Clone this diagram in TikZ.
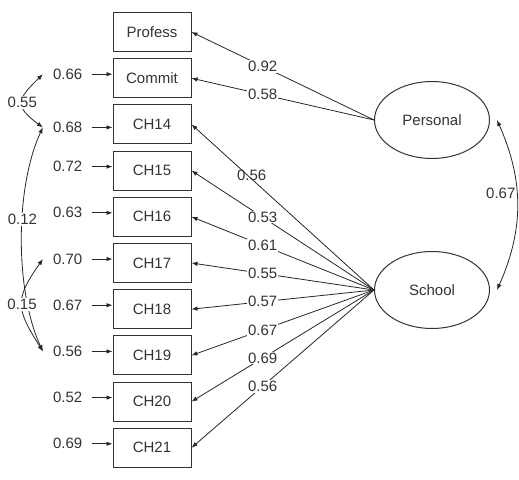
\documentclass[tikz,border=0pt]{standalone}
\usepackage{fontspec}
\setmainfont{Liberation Sans}
\usetikzlibrary{arrows.meta, positioning, shapes.geometric}

\begin{document}
\begin{tikzpicture}[
    x=1pt, y=1pt,
    >=Latex,
    node distance=6.2pt,
    every node/.style={font=\fontsize{15}{18}\selectfont, text=black!80},
    item/.style={
        rectangle,
        draw=black!80,
        line width=1pt,
        minimum width=78pt,
        minimum height=39pt,
        inner sep=2pt
    },
    factor/.style={
        ellipse,
        draw=black!80,
        line width=1pt,
        minimum width=115pt,
        minimum height=77pt,
        inner sep=1pt
    },
    err/.style={
        inner sep=1pt,
        left=29pt of #1.west,
        yshift=4pt
    },
    arrow/.style={
        -{Latex[length=6pt,width=4.5pt]},
        line width=0.8pt,
        draw=black!85
    },
    corr/.style={
        {Latex[length=6pt,width=4.5pt]}-{Latex[length=6pt,width=4.5pt]},
        line width=0.8pt,
        draw=black!85
    },
    lab/.style={
        fill=white,
        inner sep=1pt
    }
]
\useasboundingbox (0,0) rectangle (519,479);
\node[item] (profess) at (152,447) {Profess};
\node[item, below=of profess] (commit) {Commit};
\node[item, below=of commit] (ch14) {CH14};
\node[item, below=of ch14] (ch15) {CH15};
\node[item, below=of ch15] (ch16) {CH16};
\node[item, below=of ch16] (ch17) {CH17};
\node[item, below=of ch17] (ch18) {CH18};
\node[item, below=of ch18] (ch19) {CH19};
\node[item, below=of ch19] (ch20) {CH20};
\node[item, below=of ch20] (ch21) {CH21};
\node[factor] (personal) at (432,359) {Personal};
\node[factor] (school) at (432,189) {School};
\node[err=commit] (e66) {0.66};
\node[err=ch14, yshift=-7pt] (e68) {0.68};
\node[err=ch15] (e72) {0.72};
\node[err=ch16] (e63) {0.63};
\node[err=ch17] (e70) {0.70};
\node[err=ch18] (e67) {0.67};
\node[err=ch19] (e56) {0.56};
\node[err=ch20] (e52) {0.52};
\node[err=ch21] (e69) {0.69};
\draw[arrow, shorten <=8pt] (e66) -- (e66 -| commit.west);
\draw[arrow, shorten <=8pt] (e68) -- (e68 -| ch14.west);
\draw[arrow, shorten <=8pt] (e72) -- (e72 -| ch15.west);
\draw[arrow, shorten <=8pt] (e63) -- (e63 -| ch16.west);
\draw[arrow, shorten <=8pt] (e70) -- (e70 -| ch17.west);
\draw[arrow, shorten <=8pt] (e67) -- (e67 -| ch18.west);
\draw[arrow, shorten <=8pt] (e56) -- (e56 -| ch19.west);
\draw[arrow, shorten <=8pt] (e52) -- (e52 -| ch20.west);
\draw[arrow, shorten <=8pt] (e69) -- (e69 -| ch21.west);
\draw[arrow] (personal.west) -- node[lab, pos=0.61] {0.92} (profess.east);
\draw[arrow] (personal.west) -- node[lab, pos=0.61] {0.58} (commit.east);
\draw[arrow] (school.west) -- node[pos=0.67, above=-3pt, inner sep=1pt] {0.56} (ch14.east);
\draw[arrow] (school.west) -- node[lab, pos=0.61] {0.53} (ch15.east);
\draw[arrow] (school.west) -- node[lab, pos=0.61] {0.61} (ch16.east);
\draw[arrow] (school.west) -- node[lab, pos=0.61] {0.55} (ch17.east);
\draw[arrow] (school.west) -- node[lab, pos=0.61] {0.57} (ch18.east);
\draw[arrow] (school.west) -- node[lab, pos=0.61] {0.67} (ch19.east);
\draw[arrow] (school.west) -- node[lab, pos=0.61] {0.69} (ch20.east);
\draw[arrow] (school.west) -- node[lab, pos=0.61] {0.56} (ch21.east);
\coordinate (t66) at ([xshift=-9pt]e66.west);
\coordinate (t68) at ([xshift=-9pt]e68.west);
\coordinate (t70) at ([xshift=-9pt]e70.west);
\coordinate (t56) at ([xshift=-9pt]e56.west);
\draw[corr] (t66) to[out=224, in=144, looseness=1.73] node[lab] {0.55} (t68);
\draw[corr] (t68) to[out=245, in=115, looseness=0.76] node[lab, pos=0.42] {0.12} (t56);
\draw[corr] (t70) to[out=235, in=122, looseness=1.4] node[lab] {0.15} (t56);
\coordinate (pe) at ([xshift=7pt]personal.east);
\coordinate (se) at ([xshift=7pt]school.east);
\draw[corr] (pe) to[bend left=24] node[left, pos=0.43, inner sep=1pt] {0.67} (se);
\end{tikzpicture}
\end{document}
